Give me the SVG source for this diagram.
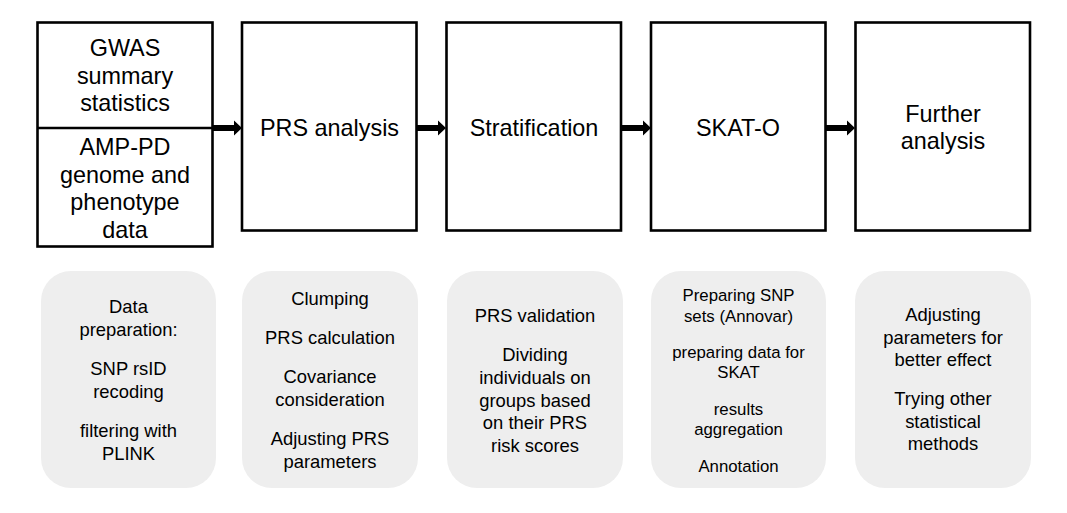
<svg xmlns="http://www.w3.org/2000/svg" width="1067" height="513" viewBox="0 0 1067 513">
<style>
.box{fill:#fff;stroke:#000;stroke-width:2.6}
.note{fill:#eeeeee;stroke:none}
.t{font-family:"Liberation Sans",Arial,sans-serif;font-size:23.4px;fill:#000;text-anchor:middle}
.s{font-family:"Liberation Sans",Arial,sans-serif;font-size:18.4px;fill:#000;text-anchor:middle}
.s2{font-family:"Liberation Sans",Arial,sans-serif;font-size:16.8px;fill:#000;text-anchor:middle}
.arr{fill:#000}
</style>
<rect width="1067" height="513" fill="#fff"/>
<g id="input">
<rect class="box" x="37.5" y="22.5" width="175" height="224"/>
<line x1="37.5" y1="128" x2="212.5" y2="128" stroke="#000" stroke-width="2.6"/>
<text class="t" x="125" y="56">GWAS</text>
<text class="t" x="125" y="84">summary</text>
<text class="t" x="125" y="111">statistics</text>
<text class="t" x="125" y="155">AMP-PD</text>
<text class="t" x="125" y="183">genome and</text>
<text class="t" x="125" y="210">phenotype</text>
<text class="t" x="125" y="238">data</text>
</g>
<g id="prs">
<rect class="box" x="242" y="22.5" width="174.5" height="208"/>
<text class="t" x="329.5" y="136">PRS analysis</text>
</g>
<g id="strat">
<rect class="box" x="446.5" y="22.5" width="174.5" height="208"/>
<text class="t" x="534" y="136">Stratification</text>
</g>
<g id="skat">
<rect class="box" x="651" y="22.5" width="174.5" height="208"/>
<text class="t" x="738" y="136">SKAT-O</text>
</g>
<g id="further">
<rect class="box" x="855.5" y="22.5" width="174.5" height="208"/>
<text class="t" x="943" y="122">Further</text>
<text class="t" x="943" y="149">analysis</text>
</g>
<g id="connectors">
<polygon class="arr" points="213,125 234,125 234,120.5 242,128 234,135.5 234,131 213,131"/>
<polygon class="arr" points="417,125 438,125 438,120.5 446,128 438,135.5 438,131 417,131"/>
<polygon class="arr" points="622,125 643,125 643,120.5 651,128 643,135.5 643,131 622,131"/>
<polygon class="arr" points="826,125 847,125 847,120.5 855,128 847,135.5 847,131 826,131"/>
</g>
<g id="note1">
<rect class="note" x="41" y="271" width="175" height="217" rx="30"/>
<text class="s" x="128.5" y="313">Data</text>
<text class="s" x="128.5" y="336">preparation:</text>
<text class="s" x="128.5" y="375">SNP rsID</text>
<text class="s" x="128.5" y="398">recoding</text>
<text class="s" x="128.5" y="437">filtering with</text>
<text class="s" x="128.5" y="460">PLINK</text>
</g>
<g id="note2">
<rect class="note" x="242" y="271" width="176" height="217" rx="30"/>
<text class="s" x="330" y="305">Clumping</text>
<text class="s" x="330" y="344">PRS calculation</text>
<text class="s" x="330" y="383">Covariance</text>
<text class="s" x="330" y="406">consideration</text>
<text class="s" x="330" y="445">Adjusting PRS</text>
<text class="s" x="330" y="468">parameters</text>
</g>
<g id="note3">
<rect class="note" x="447" y="271" width="176" height="217" rx="30"/>
<text class="s" x="535" y="322">PRS validation</text>
<text class="s" x="535" y="361">Dividing</text>
<text class="s" x="535" y="384">individuals on</text>
<text class="s" x="535" y="407">groups based</text>
<text class="s" x="535" y="429">on their PRS</text>
<text class="s" x="535" y="452">risk scores</text>
</g>
<g id="note4">
<rect class="note" x="651" y="271" width="175" height="217" rx="30"/>
<text class="s2" x="738.5" y="301">Preparing SNP</text>
<text class="s2" x="738.5" y="322">sets (Annovar)</text>
<text class="s2" x="738.5" y="358">preparing data for</text>
<text class="s2" x="738.5" y="378">SKAT</text>
<text class="s2" x="738.5" y="415">results</text>
<text class="s2" x="738.5" y="435">aggregation</text>
<text class="s2" x="738.5" y="472">Annotation</text>
</g>
<g id="note5">
<rect class="note" x="855" y="271" width="176" height="217" rx="30"/>
<text class="s" x="943" y="321">Adjusting</text>
<text class="s" x="943" y="344">parameters for</text>
<text class="s" x="943" y="366">better effect</text>
<text class="s" x="943" y="405">Trying other</text>
<text class="s" x="943" y="428">statistical</text>
<text class="s" x="943" y="450">methods</text>
</g>
</svg>
